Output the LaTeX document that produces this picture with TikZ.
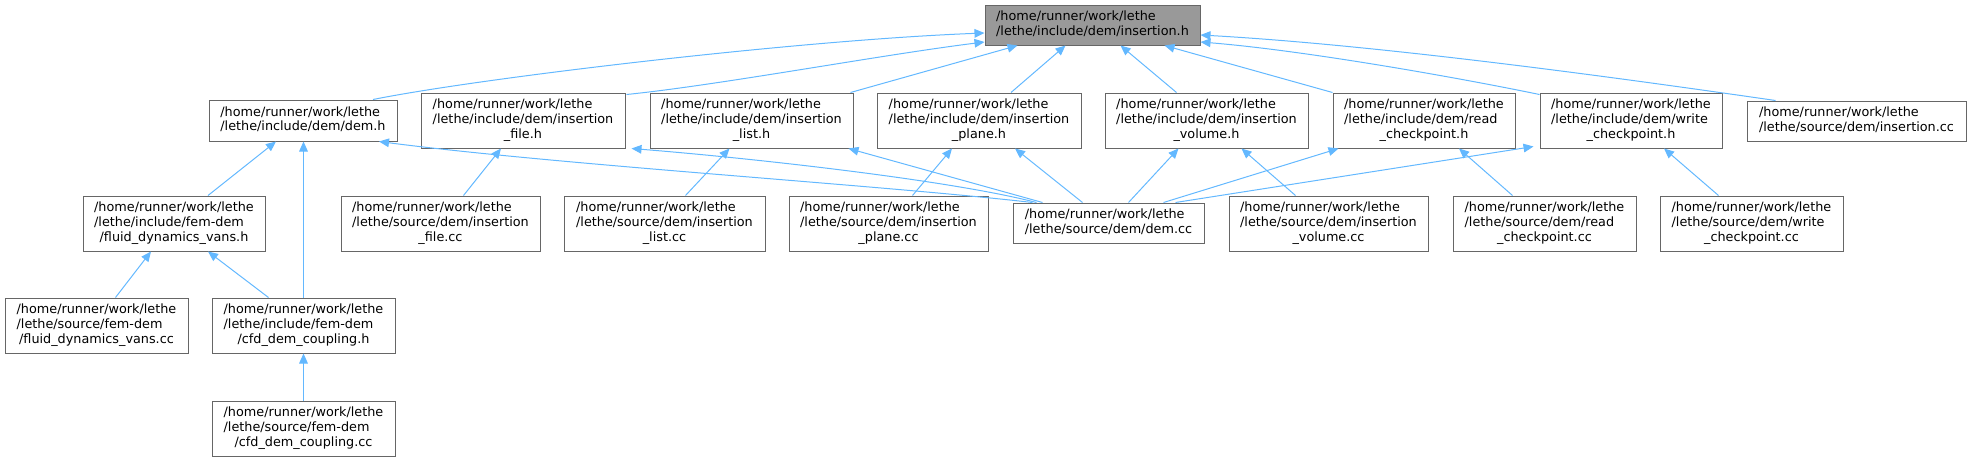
\documentclass[tikz,border=0pt]{standalone}
\usepackage{fontspec}
\setmainfont{DejaVu Sans}
\usetikzlibrary{arrows.meta,calc}
\definecolor{edgeblue}{HTML}{63B8FF}
\definecolor{boxgray}{HTML}{666666}
\definecolor{rootgray}{HTML}{999999}
\newcommand{\pathtwo}[2]{\begin{tabular}{@{}l@{}}#1\\#2\end{tabular}}
\newcommand{\paththree}[3]{\begin{tabular}{@{}l@{}}#1\\#2\\\multicolumn{1}{@{}c@{}}{#3}\end{tabular}}
\newcommand{\rw}{/home/runner/work/lethe}
\begin{document}
\begin{tikzpicture}[x=0.75pt, y=-0.75pt,
  file/.style 2 args={draw=boxgray, line width=0.75pt, fill=white, inner sep=0pt,
    minimum width=#1*0.75pt, minimum height=#2*0.75pt,
    font=\fontsize{9.6}{11}\selectfont},
  dep/.style={draw=edgeblue, line width=0.75pt, -{Triangle[length=7.5pt,width=6.5pt]}}]
  \useasboundingbox (0,0) rectangle (1971,461);
  % top
  \node[file={215}{40}, fill=rootgray] (insh) at (1092.5,25) {\pathtwo{\rw}{/lethe/include/dem/insertion.h}};
  % headers including insertion.h
  \node[file={188}{41}] (demh) at (303,120.5) {\pathtwo{\rw}{/lethe/include/dem/dem.h}};
  \node[file={204}{55}] (fileh) at (523,120.5) {\paththree{\rw}{/lethe/include/dem/insertion}{\_file.h}};
  \node[file={203}{55}] (listh) at (751.5,120.5) {\paththree{\rw}{/lethe/include/dem/insertion}{\_list.h}};
  \node[file={204}{55}] (planeh) at (979,120.5) {\paththree{\rw}{/lethe/include/dem/insertion}{\_plane.h}};
  \node[file={203}{55}] (volumeh) at (1206.5,120.5) {\paththree{\rw}{/lethe/include/dem/insertion}{\_volume.h}};
  \node[file={182}{55}] (readh) at (1424,120.5) {\paththree{\rw}{/lethe/include/dem/read}{\_checkpoint.h}};
  \node[file={182}{55}] (writeh) at (1631,120.5) {\paththree{\rw}{/lethe/include/dem/write}{\_checkpoint.h}};
  \node[file={219}{40}] (inscc) at (1856.5,121) {\pathtwo{\rw}{/lethe/source/dem/insertion.cc}};
  % third row
  \node[file={182}{55}] (vansh) at (174,223.5) {\paththree{\rw}{/lethe/include/fem-dem}{/fluid\_dynamics\_vans.h}};
  \node[file={199}{55}] (filecc) at (440.5,223.5) {\paththree{\rw}{/lethe/source/dem/insertion}{\_file.cc}};
  \node[file={201}{55}] (listcc) at (664.5,223.5) {\paththree{\rw}{/lethe/source/dem/insertion}{\_list.cc}};
  \node[file={199}{55}] (planecc) at (888.5,223.5) {\paththree{\rw}{/lethe/source/dem/insertion}{\_plane.cc}};
  \node[file={191}{40}] (demcc) at (1108.5,223) {\pathtwo{\rw}{/lethe/source/dem/dem.cc}};
  \node[file={199}{55}] (volumecc) at (1328.5,223.5) {\paththree{\rw}{/lethe/source/dem/insertion}{\_volume.cc}};
  \node[file={183}{55}] (readcc) at (1544.5,223.5) {\paththree{\rw}{/lethe/source/dem/read}{\_checkpoint.cc}};
  \node[file={183}{55}] (writecc) at (1751.5,223.5) {\paththree{\rw}{/lethe/source/dem/write}{\_checkpoint.cc}};
  % fem-dem
  \node[file={183}{55}] (vanscc) at (96.5,325.5) {\paththree{\rw}{/lethe/source/fem-dem}{/fluid\_dynamics\_vans.cc}};
  \node[file={183}{55}] (cfdh) at (303.5,325.5) {\paththree{\rw}{/lethe/include/fem-dem}{/cfd\_dem\_coupling.h}};
  \node[file={183}{55}] (cfdcc) at (303.5,428.5) {\paththree{\rw}{/lethe/source/fem-dem}{/cfd\_dem\_coupling.cc}};
  % edges into insertion.h
  \draw[dep] ($(demh.north)+(70,0)$) .. controls (480,78) and (800,40) .. ($(insh.west)+(0,8)$);
  \draw[dep] ($(fileh.north east)+(1,2)$) .. controls (720,85) and (880,55) .. ($(insh.west)+(0,17)$);
  \draw[dep] ($(listh.north east)+(-3,0)$) -- ($(insh.south)+(-75,0)$);
  \draw[dep] ($(planeh.north)+(32,0)$) -- ($(insh.south)+(-27,0)$);
  \draw[dep] ($(volumeh.north)+(-30,0)$) -- ($(insh.south)+(28,0)$);
  \draw[dep] (readh.north west) -- ($(insh.south)+(72,0)$);
  \draw[dep] ($(writeh.north west)+(0,2)$) .. controls (1450,76) and (1300,50) .. ($(insh.east)+(0,17)$);
  \draw[dep] ($(inscc.north)+(-81,0)$) .. controls (1620,78) and (1380,45) .. ($(insh.east)+(0,10)$);
  % second level
  \draw[dep] ($(vansh.north)+(34,0)$) -- ($(demh.south)+(-27,0)$);
  \draw[dep] (cfdh.north) -- (cfdh.north |- demh.south);
  \draw[dep] ($(demcc.north)+(-76,0)$) .. controls (880,185) and (560,165) .. ($(demh.south)+(76,0)$);
  \draw[dep] ($(demcc.north)+(-72,0)$) .. controls (950,180) and (750,158) .. ($(fileh.south east)+(6,0)$);
  \draw[dep] ($(filecc.north)+(23,0)$) -- ($(fileh.south)+(-22,0)$);
  \draw[dep] ($(listcc.north)+(21,0)$) -- ($(listh.south)+(-22,0)$);
  \draw[dep] ($(demcc.north)+(-66,0)$) -- ($(listh.south east)+(-5,0)$);
  \draw[dep] ($(planecc.north)+(24,0)$) -- ($(planeh.south)+(-27,0)$);
  \draw[dep] ($(demcc.north)+(-26,0)$) -- ($(planeh.south)+(36,0)$);
  \draw[dep] ($(demcc.north)+(20,0)$) -- ($(volumeh.south)+(-28,0)$);
  \draw[dep] ($(volumecc.north)+(-33,0)$) -- ($(volumeh.south)+(35,0)$);
  \draw[dep] ($(demcc.north)+(55,0)$) -- ($(readh.south west)+(6,0)$);
  \draw[dep] ($(demcc.north)+(67,0)$) -- ($(writeh.south west)+(-6,-2)$);
  \draw[dep] ($(readcc.north)+(-32,0)$) -- ($(readh.south)+(35,0)$);
  \draw[dep] ($(writecc.north)+(-33,0)$) -- ($(writeh.south)+(33,0)$);
  % fem-dem
  \draw[dep] ($(vanscc.north)+(19,0)$) -- ($(vansh.south)+(-23,0)$);
  \draw[dep] ($(cfdh.north)+(-35,0)$) -- ($(vansh.south)+(34,0)$);
  \draw[dep] (cfdcc.north) -- (cfdh.south);
\end{tikzpicture}
\end{document}
